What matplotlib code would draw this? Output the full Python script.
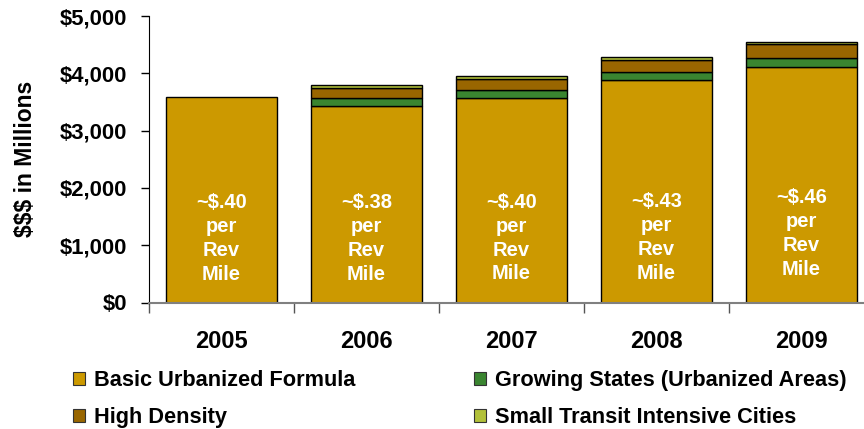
import matplotlib
matplotlib.use("Agg")
import matplotlib.pyplot as plt
from matplotlib.patches import Patch
from matplotlib.ticker import FuncFormatter

plt.rcParams['font.family'] = ['Liberation Sans', 'DejaVu Sans']
plt.rcParams['font.weight'] = 'bold'

years = ["2005", "2006", "2007", "2008", "2009"]
basic_urbanized = [3585, 3424, 3564, 3878, 4116]
growing_states = [0, 140, 139, 139, 157]
high_density = [0, 186, 198, 210, 233]
small_transit = [0, 41, 47, 52, 41]
rate_labels = ["~$.40", "~$.38", "~$.40", "~$.43", "~$.46"]
label_heights = [1120, 1120, 1125, 1140, 1210]

series = [
    ("Basic Urbanized Formula", basic_urbanized, "#CC9900"),
    ("Growing States (Urbanized Areas)", growing_states, "#3A8530"),
    ("High Density", high_density, "#996600"),
    ("Small Transit Intensive Cities", small_transit, "#B2C13A"),
]

W, H = 864, 429
fig = plt.figure(figsize=(W / 100, H / 100), dpi=100)
left, right, top, bottom = 149, 874, 16, 302.5
ax = fig.add_axes([left / W, 1 - bottom / H, (right - left) / W, (bottom - top) / H])

x = list(range(len(years)))
base = [0] * len(years)
for name, vals, color in series:
    idx = [i for i, v in enumerate(vals) if v > 0]
    ax.bar([x[i] for i in idx], [vals[i] for i in idx], width=0.766,
           bottom=[base[i] for i in idx], color=color,
           edgecolor="black", linewidth=1.0, label=name, zorder=2)
    base = [b + v for b, v in zip(base, vals)]

for xi, rate, h in zip(x, rate_labels, label_heights):
    ax.text(xi, h, f"{rate}\nper\nRev\nMile", ha="center", va="center",
            color="white", fontsize=14.5, fontweight="bold", linespacing=1.33, zorder=3)

ax.set_xlim(-0.5, len(years) - 0.5)
ax.set_ylim(0, 5000)
ax.set_yticks(range(0, 5001, 1000))
ax.yaxis.set_major_formatter(FuncFormatter(lambda v, p: f"${int(v):,}"))
ax.tick_params(axis="y", direction="out", length=6, width=1, pad=10,
               labelsize=15.8, color="black")

ax.set_xticks([i - 0.5 for i in range(len(years) + 1)])
ax.set_xticklabels([])
ax.set_xticks(x, minor=True)
ax.set_xticklabels(years, minor=True, fontsize=17, fontweight="bold")
ax.tick_params(axis="x", which="major", direction="out", length=7, width=1, color="#555555")
ax.tick_params(axis="x", which="minor", length=0, pad=20)

for lbl in ax.get_yticklabels():
    lbl.set_fontweight("bold")

ax.spines["top"].set_visible(False)
ax.spines["right"].set_visible(False)
ax.spines["left"].set_color("black")
ax.spines["bottom"].set_color("#808080")
ax.spines["bottom"].set_linewidth(1.5)

ax.set_ylabel("$$$ in Millions", fontsize=16.5, fontweight="bold", labelpad=16)

handles = [Patch(facecolor=c, edgecolor="#333333", linewidth=0.8) for _, _, c in series]
names = [n for n, _, _ in series]
order = [0, 2, 1, 3]
fig.legend([handles[i] for i in order], [names[i] for i in order],
           loc="upper left", bbox_to_anchor=(73 / W, 1 - 370 / H), ncol=2,
           frameon=False, fontsize=15.7, handlelength=0.55, handleheight=0.55,
           handletextpad=0.4, columnspacing=5.45, labelspacing=0.74, borderpad=0,
           borderaxespad=0)

fig.savefig("out.png", dpi=100)
